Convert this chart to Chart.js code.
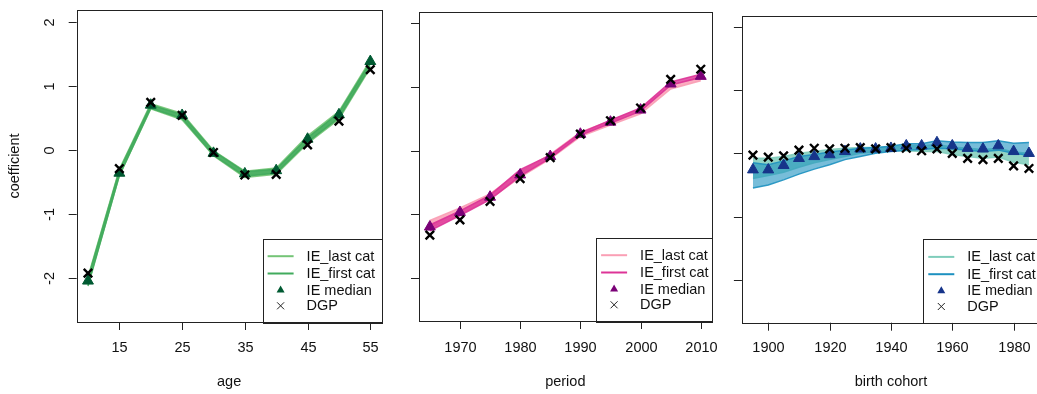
<!DOCTYPE html>
<html>
<head>
<meta charset="utf-8">
<script src="https://cdn.jsdelivr.net/npm/chart.js@4.4.1/dist/chart.umd.min.js"></script>
<style>
  html, body { margin: 0; padding: 0; background: #fff; overflow: hidden; width: 1037px; height: 394px; }
  canvas { position: absolute; top: 0; }
</style>
</head>
<body>
<canvas id="cAge" width="390" height="394" style="left:0px"></canvas>
<canvas id="cPeriod" width="330" height="394" style="left:390px"></canvas>
<canvas id="cCohort" width="330" height="394" style="left:720px"></canvas>
<script>
// ---- data ----
var yTicks = [-2, -1, 0, 1, 2];
var legendLabels = ["IE_last cat", "IE_first cat", "IE median", "DGP"];

// age panel
var ageTicks = [15, 25, 35, 45, 55];
var ageCats = [10, 15, 20, 25, 30, 35, 40, 45, 50, 55];
var ageMedian = [-2.04, -0.36, 0.70, 0.54, -0.05, -0.37, -0.32, 0.17, 0.55, 1.38];
var ageDGP = [-1.92, -0.29, 0.74, 0.54, -0.04, -0.39, -0.38, 0.08, 0.45, 1.25];
var ageLastHi = [-1.98, -0.30, 0.72, 0.57, -0.01, -0.33, -0.28, 0.22, 0.60, 1.40];
var ageLastLo = [-2.10, -0.40, 0.64, 0.47, -0.09, -0.43, -0.38, 0.10, 0.48, 1.28];
var ageFirstHi = [-2.00, -0.32, 0.70, 0.55, -0.02, -0.34, -0.30, 0.19, 0.58, 1.37];
var ageFirstLo = [-2.12, -0.40, 0.65, 0.49, -0.08, -0.41, -0.36, 0.12, 0.50, 1.30];

// period panel
var periodTicks = [1970, 1980, 1990, 2000, 2010];
var periodCats = [1965, 1970, 1975, 1980, 1985, 1990, 1995, 2000, 2005, 2010];
var periodMedian = [-1.20, -0.97, -0.73, -0.38, -0.09, 0.26, 0.45, 0.64, 1.05, 1.17];
var periodDGP = [-1.33, -1.09, -0.80, -0.44, -0.11, 0.26, 0.47, 0.67, 1.12, 1.28];
var periodLastHi = [-1.10, -0.90, -0.68, -0.33, -0.06, 0.29, 0.47, 0.66, 1.03, 1.16];
var periodLastLo = [-1.22, -1.00, -0.76, -0.42, -0.13, 0.22, 0.40, 0.58, 0.97, 1.10];
var periodFirstHi = [-1.17, -0.95, -0.70, -0.30, -0.07, 0.28, 0.48, 0.67, 1.08, 1.20];
var periodFirstLo = [-1.26, -1.02, -0.77, -0.40, -0.12, 0.24, 0.43, 0.62, 1.03, 1.15];

// birth cohort panel
var cohortTicks = [1900, 1920, 1940, 1960, 1980];
var cohortCats = [1895, 1900, 1905, 1910, 1915, 1920, 1925, 1930, 1935, 1940, 1945, 1950, 1955, 1960, 1965, 1970, 1975, 1980, 1985];
var cohortMedian = [-0.26, -0.26, -0.19, -0.08, -0.05, -0.02, 0.03, 0.07, 0.07, 0.08, 0.12, 0.12, 0.17, 0.12, 0.08, 0.07, 0.12, 0.03, 0.00];
var cohortDGP = [-0.03, -0.06, -0.04, 0.05, 0.08, 0.07, 0.08, 0.09, 0.07, 0.09, 0.08, 0.04, 0.07, 0.00, -0.08, -0.10, -0.08, -0.20, -0.24];
var cohortLastHi = [-0.08, -0.08, -0.05, 0.00, 0.03, 0.06, 0.08, 0.09, 0.09, 0.10, 0.12, 0.12, 0.14, 0.10, 0.08, 0.06, 0.08, 0.02, 0.00];
var cohortLastLo = [-0.40, -0.35, -0.30, -0.22, -0.15, -0.10, -0.05, 0.00, 0.02, 0.04, 0.04, 0.03, 0.03, -0.02, -0.05, -0.08, -0.06, -0.14, -0.18];
var cohortFirstHi = [-0.15, -0.18, -0.12, -0.05, -0.02, 0.02, 0.05, 0.08, 0.09, 0.11, 0.15, 0.15, 0.20, 0.18, 0.17, 0.17, 0.20, 0.16, 0.17];
var cohortFirstLo = [-0.55, -0.50, -0.42, -0.33, -0.25, -0.18, -0.10, -0.05, 0.00, 0.03, 0.05, 0.06, 0.08, 0.07, 0.05, 0.03, 0.05, 0.00, -0.03];

var FONT = '14.5px "Liberation Sans", Arial, sans-serif';
var INK = '#111';

function toXY(xs, ys) {
  var out = [];
  for (var i = 0; i < xs.length; i++) out.push({x: xs[i], y: ys[i]});
  return out;
}

function alpha(hex, a) {
  var n = parseInt(hex.slice(1), 16);
  return 'rgba(' + ((n >> 16) & 255) + ',' + ((n >> 8) & 255) + ',' + (n & 255) + ',' + a + ')';
}

// R-style frame: box, outward ticks, labels, titles and legend
var rFrame = {
  id: 'rFrame',
  afterDraw: function(chart, args, opts) {
    var ctx = chart.ctx;
    var area = chart.chartArea;
    var xs = chart.scales.x, ys = chart.scales.y;
    ctx.save();
    ctx.strokeStyle = '#222';
    ctx.lineWidth = 1;
    ctx.strokeRect(Math.round(area.left) + 0.5, Math.round(area.top) + 0.5,
      Math.round(area.right - area.left), Math.round(area.bottom - area.top));

    ctx.font = FONT;
    ctx.fillStyle = INK;
    // y ticks
    for (var i = 0; i < yTicks.length; i++) {
      var py = Math.round(ys.getPixelForValue(yTicks[i])) + 0.5;
      ctx.beginPath();
      ctx.moveTo(area.left - 8, py);
      ctx.lineTo(area.left, py);
      ctx.stroke();
      if (opts.yLabels) {
        ctx.save();
        ctx.translate(area.left - 26.5, py);
        ctx.rotate(-Math.PI / 2);
        ctx.textAlign = 'center';
        ctx.textBaseline = 'middle';
        ctx.fillText(String(yTicks[i]), 0, 0);
        ctx.restore();
      }
    }
    // x ticks
    for (var j = 0; j < opts.xTicks.length; j++) {
      var px = Math.round(xs.getPixelForValue(opts.xTicks[j])) + 0.5;
      ctx.beginPath();
      ctx.moveTo(px, area.bottom);
      ctx.lineTo(px, area.bottom + 8);
      ctx.stroke();
      ctx.textAlign = 'center';
      ctx.textBaseline = 'middle';
      ctx.fillText(String(opts.xTicks[j]), px, 348);
    }
    // axis titles
    ctx.textAlign = 'center';
    ctx.textBaseline = 'middle';
    ctx.fillText(opts.xTitle, (area.left + area.right) / 2, 382);
    if (opts.yTitle) {
      ctx.save();
      ctx.translate(15, (area.top + area.bottom) / 2);
      ctx.rotate(-Math.PI / 2);
      ctx.fillText(opts.yTitle, 0, 0);
      ctx.restore();
    }

    // legend in the bottom right corner
    var bx = area.right - opts.legendWidth;
    var by = area.bottom - 83.5;
    ctx.fillStyle = '#fff';
    ctx.fillRect(bx, by, area.right - bx, area.bottom - by);
    ctx.strokeStyle = '#222';
    ctx.strokeRect(Math.round(bx) + 0.5, Math.round(by) + 0.5, Math.round(area.right - bx), Math.round(area.bottom - by));
    var rows = [17.7, 35, 51.5, 67.3];
    ctx.lineWidth = 2;
    ctx.strokeStyle = opts.colors.last;
    ctx.beginPath(); ctx.moveTo(bx + 5, by + rows[0]); ctx.lineTo(bx + 31, by + rows[0]); ctx.stroke();
    ctx.strokeStyle = opts.colors.first;
    ctx.beginPath(); ctx.moveTo(bx + 5, by + rows[1]); ctx.lineTo(bx + 31, by + rows[1]); ctx.stroke();
    ctx.fillStyle = opts.colors.median;
    ctx.beginPath();
    ctx.moveTo(bx + 18, by + rows[2] - 4.5);
    ctx.lineTo(bx + 22, by + rows[2] + 2.5);
    ctx.lineTo(bx + 14, by + rows[2] + 2.5);
    ctx.closePath();
    ctx.fill();
    ctx.strokeStyle = '#222';
    ctx.lineWidth = 1;
    ctx.beginPath();
    ctx.moveTo(bx + 14.5, by + rows[3] - 3.5); ctx.lineTo(bx + 21.5, by + rows[3] + 3.5);
    ctx.moveTo(bx + 21.5, by + rows[3] - 3.5); ctx.lineTo(bx + 14.5, by + rows[3] + 3.5);
    ctx.stroke();
    ctx.fillStyle = INK;
    ctx.textAlign = 'left';
    for (var k = 0; k < legendLabels.length; k++) {
      ctx.fillText(legendLabels[k], bx + 44, by + rows[k] + 0.5);
    }
    ctx.restore();
  }
};

function buildPanel(canvasId, p) {
  var lineSet = function(ys, col, fill, ord, a) {
    return {
      data: toXY(p.cats, ys),
      borderColor: alpha(col, 0.9),
      backgroundColor: alpha(col, a),
      borderWidth: 1.5,
      pointRadius: 0,
      tension: 0,
      fill: fill,
      order: ord
    };
  };
  var datasets = [
    // DGP crosses on top
    {data: toXY(p.cats, p.dgp), showLine: false, pointStyle: 'crossRot', pointRadius: 6,
     borderColor: '#000', backgroundColor: '#000', pointBorderWidth: 2.4, order: 0},
    // median triangles
    {data: toXY(p.cats, p.median), showLine: false, pointStyle: 'triangle', pointRadius: 6.3,
     borderColor: p.colors.median, backgroundColor: p.colors.median, pointBorderWidth: 1, order: 1},
    lineSet(p.firstHi, p.colors.first, false, 2, p.firstAlpha),
    lineSet(p.firstLo, p.colors.first, '-1', 2, p.firstAlpha),
    lineSet(p.lastHi, p.colors.last, false, 3, 0.85),
    lineSet(p.lastLo, p.colors.last, '-1', 3, 0.85)
  ];

  return new Chart(document.getElementById(canvasId), {
    type: 'line',
    data: {datasets: datasets},
    plugins: [rFrame],
    options: {
      responsive: false,
      animation: false,
      devicePixelRatio: 1,
      layout: {padding: p.padding},
      scales: {
        x: {type: 'linear', min: p.xMin, max: p.xMax, display: false},
        y: {type: 'linear', min: -2.68, max: 2.18, display: false}
      },
      plugins: {
        legend: {display: false},
        tooltip: {enabled: false},
        rFrame: {
          xTicks: p.xTicks, xTitle: p.xTitle, yTitle: p.yTitle, yLabels: p.yLabels,
          legendWidth: p.legendWidth, colors: p.colors
        }
      }
    }
  });
}

buildPanel('cAge', {
  cats: ageCats, median: ageMedian, dgp: ageDGP,
  lastHi: ageLastHi, lastLo: ageLastLo, firstHi: ageFirstHi, firstLo: ageFirstLo,
  colors: {last: '#74c476', first: '#41ab5d', median: '#005a32'}, firstAlpha: 0.8,
  xMin: 8.2, xMax: 56.8, xTicks: ageTicks, xTitle: 'age', yTitle: 'coefficient', yLabels: true,
  padding: {left: 76.7, right: 8.3, top: 10, bottom: 72},
  legendWidth: 119
});

buildPanel('cPeriod', {
  cats: periodCats, median: periodMedian, dgp: periodDGP,
  lastHi: periodLastHi, lastLo: periodLastLo, firstHi: periodFirstHi, firstLo: periodFirstLo,
  colors: {last: '#fa9fb5', first: '#dd3497', median: '#7a0177'}, firstAlpha: 0.8,
  xMin: 1963.2, xMax: 2011.8, xTicks: periodTicks, xTitle: 'period', yTitle: null, yLabels: false,
  padding: {left: 29, right: 5.7, top: 12, bottom: 73},
  legendWidth: 115.5
});

buildPanel('cCohort', {
  cats: cohortCats, median: cohortMedian, dgp: cohortDGP,
  lastHi: cohortLastHi, lastLo: cohortLastLo, firstHi: cohortFirstHi, firstLo: cohortFirstLo,
  colors: {last: '#7fcdbb', first: '#1d91c0', median: '#16348a'}, firstAlpha: 0.6,
  xMin: 1891.4, xMax: 1988.6, xTicks: cohortTicks, xTitle: 'birth cohort', yTitle: null, yLabels: false,
  padding: {left: 21.9, right: 10, top: 15.5, bottom: 71.3},
  legendWidth: 116.7
});
</script>
</body>
</html>
